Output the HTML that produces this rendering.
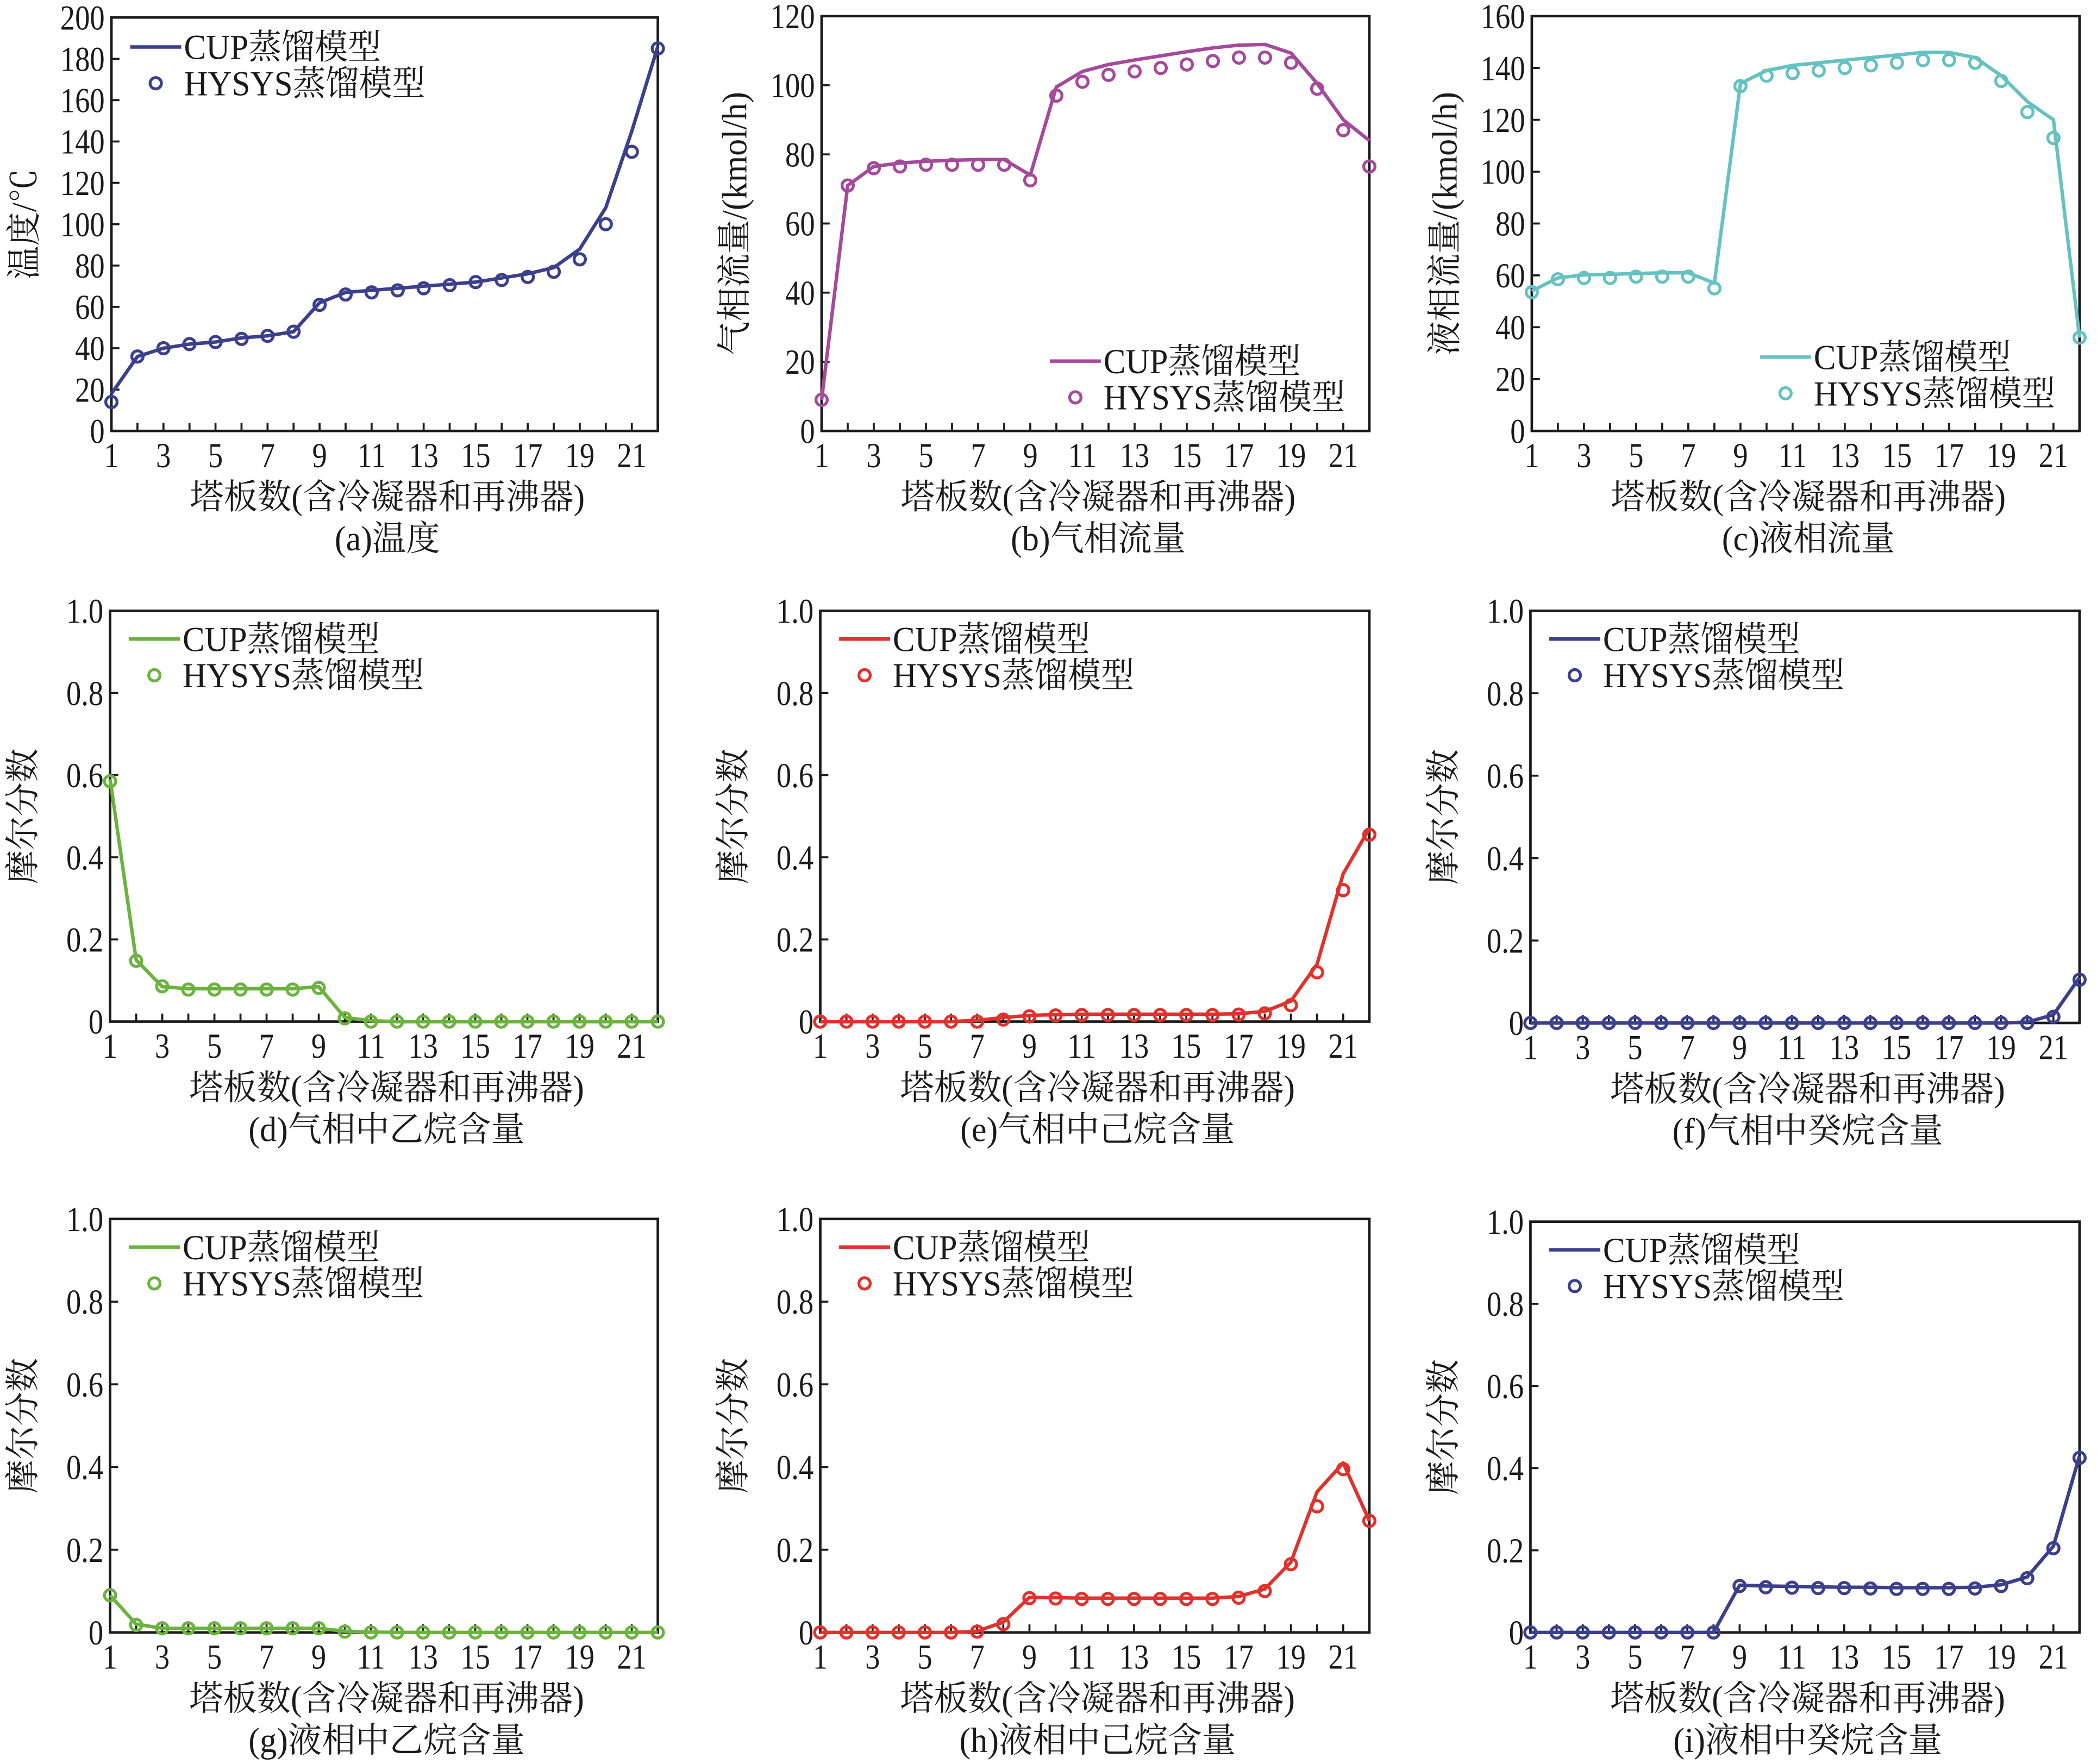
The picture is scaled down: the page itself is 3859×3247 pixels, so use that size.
<!DOCTYPE html>
<html><head><meta charset="utf-8"><style>
html,body{margin:0;padding:0;background:#fff;}
svg{display:block;}
text{font-family:"Liberation Serif","Noto Serif CJK SC","Noto Sans CJK SC",serif;fill:#1a1a1a;}
</style></head><body>
<svg id="s" width="3859" height="3247" viewBox="0 0 1562 1314" preserveAspectRatio="none" xmlns="http://www.w3.org/2000/svg"></svg>
<script>
const S=document.getElementById('s');const NS='http://www.w3.org/2000/svg';
function el(t,a,txt){const e=document.createElementNS(NS,t);for(const k in a)e.setAttribute(k,a[k]);if(txt!==undefined)e.textContent=txt;S.appendChild(e);return e;}
function T(x,y,s,size,anchor,sx,rot){return el('text',{transform:`translate(${x},${y})`+(rot?` rotate(${rot})`:'')+` scale(${sx||0.85},1)`,'font-size':size,'text-anchor':anchor||'start'},s);}
const xl='塔板数(含冷凝器和再沸器)';
const P=[
{l:83,r:490,t:13,b:321,ymax:200,step:20,lab:'温度/℃',c:'#3c3f8c',cap:'(a)温度',leg:[97,35],
cup:[18,36,40,42,43,45,46,48,62,67,68,69,70,71,72,74,76,79,88,108,145,186],
hy:[14,36,40,42,43,44.5,46,48,61,66,67,68,69,70.5,72,73,74.5,77,83,100,135,185],dec:0},
{l:612,r:1020,t:12,b:321,ymax:120,step:20,lab:'气相流量/(kmol/h)',c:'#a54a9b',cap:'(b)气相流量',leg:[782,269],
cup:[9,71,76.5,77.5,78,78.3,78.5,78.5,74,99.5,104,106,107.3,108.5,109.7,110.8,111.6,111.8,109.3,100.5,90,84],
hy:[9,71,76,76.5,77,77,77,77,72.5,97,101,103,104,105,106,107,108,108,106.5,99,87,76.5],dec:0},
{l:1141,r:1549,t:12,b:321,ymax:160,step:20,lab:'液相流量/(kmol/h)',c:'#65c2c0',cap:'(c)液相流量',leg:[1311,266],
cup:[54,59,60.2,60.4,60.7,61,61,57,134,139,141,142,143,144,145,146,146,144,137,127,120,36],
hy:[53.5,58.5,59,59,59.5,59.5,59.5,55,133,137,138,139,140,141,142,143,143,142,135,123,113,36],dec:0},
{l:82,r:490,t:455,b:761,ymax:1,step:0.2,lab:'摩尔分数',c:'#6cb23e',cap:'(d)气相中乙烷含量',leg:[96,476],
cup:[0.59,0.15,0.085,0.08,0.08,0.08,0.08,0.08,0.085,0.01,0.002,0,0,0,0,0,0,0,0,0,0,0],
hy:[0.585,0.148,0.086,0.078,0.078,0.078,0.078,0.078,0.082,0.008,0,0,0,0,0,0,0,0,0,0,0,0],dec:1},
{l:611,r:1020,t:455,b:761,ymax:1,step:0.2,lab:'摩尔分数',c:'#e0322c',cap:'(e)气相中己烷含量',leg:[625,476],
cup:[0,0,0,0,0,0,0.003,0.01,0.015,0.017,0.018,0.018,0.018,0.018,0.018,0.018,0.019,0.025,0.05,0.14,0.36,0.47],
hy:[0,0,0,0,0,0,0,0.005,0.013,0.015,0.016,0.016,0.016,0.016,0.016,0.016,0.017,0.02,0.04,0.12,0.32,0.455],dec:1},
{l:1140,r:1549,t:455,b:762,ymax:1,step:0.2,lab:'摩尔分数',c:'#3c3f8c',cap:'(f)气相中癸烷含量',leg:[1154,476],
cup:[0,0,0,0,0,0,0,0,0,0,0,0,0,0,0,0,0,0,0,0.002,0.02,0.11],
hy:[0,0,0,0,0,0,0,0,0,0,0,0,0,0,0,0,0,0,0,0,0.015,0.105],dec:1},
{l:82,r:490,t:908,b:1216,ymax:1,step:0.2,lab:'摩尔分数',c:'#6cb23e',cap:'(g)液相中乙烷含量',leg:[96,929],
cup:[0.09,0.02,0.01,0.01,0.01,0.01,0.01,0.01,0.01,0.003,0.001,0,0,0,0,0,0,0,0,0,0,0],
hy:[0.09,0.018,0.01,0.01,0.01,0.01,0.01,0.01,0.01,0.002,0,0,0,0,0,0,0,0,0,0,0,0],dec:1},
{l:611,r:1020,t:908,b:1216,ymax:1,step:0.2,lab:'摩尔分数',c:'#e0322c',cap:'(h)液相中己烷含量',leg:[625,929],
cup:[0,0,0,0,0,0,0.003,0.025,0.085,0.084,0.083,0.083,0.083,0.083,0.083,0.083,0.087,0.105,0.17,0.34,0.41,0.27],
hy:[0,0,0,0,0,0,0.002,0.02,0.083,0.082,0.081,0.081,0.081,0.081,0.081,0.081,0.084,0.1,0.165,0.305,0.395,0.27],dec:1},
{l:1140,r:1549,t:910,b:1216,ymax:1,step:0.2,lab:'摩尔分数',c:'#3c3f8c',cap:'(i)液相中癸烷含量',leg:[1154,931],
cup:[0,0,0,0,0,0,0,0,0.115,0.113,0.112,0.111,0.11,0.11,0.109,0.109,0.109,0.11,0.116,0.135,0.21,0.43],
hy:[0,0,0,0,0,0,0,0,0.113,0.11,0.109,0.108,0.108,0.107,0.106,0.106,0.106,0.107,0.113,0.132,0.205,0.425],dec:1}
];
for(const p of P){
 const X=i=>p.l+(i-1)*(p.r-p.l)/21, Y=v=>p.b-v/p.ymax*(p.b-p.t);
 el('rect',{x:p.l,y:p.t,width:p.r-p.l,height:p.b-p.t,fill:'none',stroke:'#1a1a1a','stroke-width':1.9});
 for(let i=1;i<=22;i++){el('line',{x1:X(i),x2:X(i),y1:p.b,y2:p.b-6,stroke:'#1a1a1a','stroke-width':1.5});
  if(i%2==1)T(X(i),p.b+27,String(i),26,'middle');}
 const n=Math.round(p.ymax/p.step);
 for(let k=0;k<=n;k++){const v=k*p.step;const y=Y(v);
  el('line',{x1:p.l,x2:p.l+6,y1:y,y2:y,stroke:'#1a1a1a','stroke-width':1.5});
  const s=p.dec?(k==0?'0':v.toFixed(1)):String(Math.round(v));
  T(p.l-5,y+9,s,26,'end');}
 const cx=(p.l+p.r)/2;
 T(cx+2,p.b+58,xl,26,'middle',0.97);
 T(cx+2,p.b+89,p.cap,26,'middle',0.97);
 T(p.l-56,(p.t+p.b)/2,p.lab,26,'middle',0.97,-90);
 el('polyline',{points:p.cup.map((v,i)=>X(i+1)+','+Y(v)).join(' '),fill:'none',stroke:p.c,'stroke-width':2.6,'stroke-linejoin':'round'});
 p.hy.forEach((v,i)=>el('circle',{cx:X(i+1),cy:Y(v),r:4.2,fill:'none',stroke:p.c,'stroke-width':2.2}));
 const [lx,ly]=p.leg;
 el('line',{x1:lx,x2:lx+38,y1:ly,y2:ly,stroke:p.c,'stroke-width':2.6});
 T(lx+40,ly+9,'CUP蒸馏模型',26,'start',0.95);
 el('circle',{cx:lx+19,cy:ly+27,r:4.2,fill:'none',stroke:p.c,'stroke-width':2.2});
 T(lx+40,ly+36,'HYSYS蒸馏模型',26,'start',0.95);
}
</script>
</body></html>
